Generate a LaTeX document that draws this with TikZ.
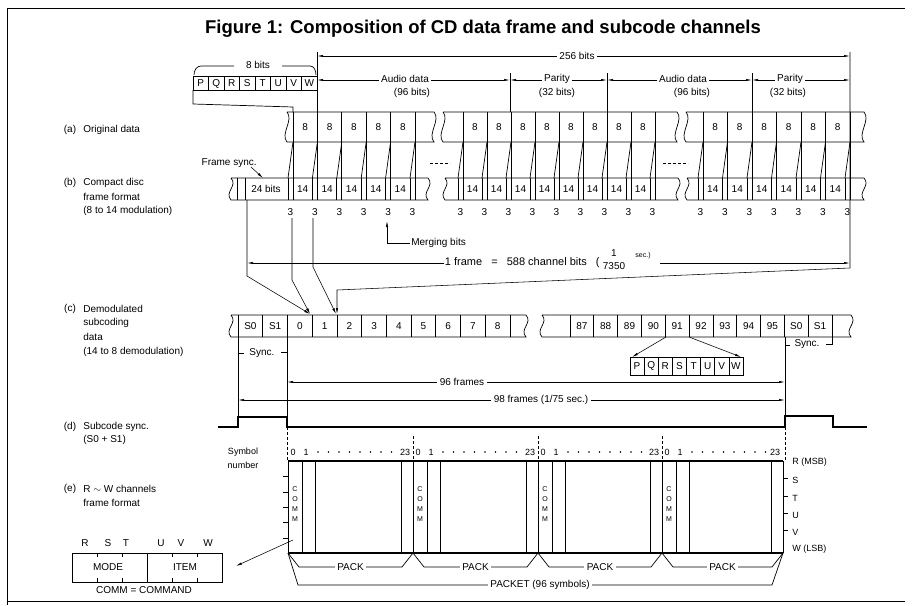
\documentclass[tikz,border=0pt]{standalone}
\usepackage{fontspec}
\setmainfont{Liberation Sans}
\setsansfont{Liberation Sans}
\usetikzlibrary{arrows.meta}
\newcommand{\band}[4]{%
  \draw (#1,#3) -- (#2,#3) .. controls +(7,8) and +(-7,-8) .. (#2,#4) -- (#1,#4) .. controls +(-7,-8) and +(7,8) .. (#1,#3);}
\begin{document}
\begin{tikzpicture}[x=1pt,y=-1pt,line width=0.7pt,
  lbl/.style={font=\fontsize{10}{12}\selectfont,inner sep=1pt},
  lblsm/.style={font=\fontsize{9}{11}\selectfont,inner sep=1pt},
  lbltiny/.style={font=\fontsize{7}{8}\selectfont,inner sep=0pt},
  wbg/.style={fill=white,inner sep=2.5pt},
  dimarr/.style={{Latex[length=6pt,width=2.2pt]}-{Latex[length=6pt,width=2.2pt]},line width=0.55pt},
  tipar/.style={-{Latex[length=6pt,width=2.4pt]},line width=0.55pt},
  fine/.style={line width=0.5pt},
  heavy/.style={line width=1.1pt}]
\useasboundingbox (0,0) rectangle (920,605);
% border
\draw[fine] (7,8) -- (905,8);
\draw[fine] (7,8) -- (7,605);
\draw[fine] (7,601) -- (905,601);
% title
\node[font=\fontsize{18.5}{22}\selectfont\bfseries,anchor=base] (title) at (483,33) {Figure 1: Composition of CD data frame and subcode channels};

% ---------- top 8-bit box ----------
\draw (193,76) rectangle (317,90);
\foreach \i in {1,...,7} \draw (193+15.5*\i,76) -- (193+15.5*\i,90);
\foreach \l [count=\i from 0] in {P,Q,R,S,T,U,V,W} \node[lbl] (tb\i) at (200.75+15.5*\i,83.5) {\l};
\draw (194,75) to[out=90,in=180] (201,66) -- (234,66);
\draw (282,66) -- (310,66) to[out=0,in=90] (316,75);
\node[lbl] (eightbits) at (258,65) {8 bits};
\draw (193,90) -- (193,104) -- (293,107) -- (293,112);

% ---------- dimension lines at top ----------
\draw (317,52) -- (317,112);
\draw (510,73) -- (510,112);
\draw (607,73) -- (607,112);
\draw (752,73) -- (752,112);
\draw[dimarr] (317,56) -- (850,56);
\node[lbl,wbg] (b256) at (577,56) {256 bits};
\draw[dimarr] (317,80) -- (510,80);
\draw[dimarr] (510,80) -- (607,80);
\draw[dimarr] (607,80) -- (752,80);
\draw[dimarr] (752,80) -- (850,80);
\node[lbl,wbg] (ad1) at (405,79) {Audio data};
\node[lbl] (ad1b) at (412,93) {(96 bits)};
\node[lbl,wbg] (pa1) at (557,79) {Parity};
\node[lbl] (pa1b) at (557,93) {(32 bits)};
\node[lbl,wbg] (ad2) at (683,79) {Audio data};
\node[lbl] (ad2b) at (692,93) {(96 bits)};
\node[lbl,wbg] (pa2) at (790,79) {Parity};
\node[lbl] (pa2b) at (788,93) {(32 bits)};

% ---------- row (a) ----------
\band{287}{434}{112}{142}
\band{443}{677}{112}{142}
\band{686}{864}{112}{142}
\foreach \i in {0,...,5} {\draw (293+24.4*\i,112) -- (293+24.4*\i,200); \draw (293+24.4*\i,142) -- (288+24.4*\i,178);}
\foreach \i in {0,...,4} \node[lbl] (a1-\i) at (305.2+24.4*\i,127) {8};
\foreach \i in {0,...,8} {\draw (463+24*\i,112) -- (463+24*\i,200); \draw (463+24*\i,142) -- (458+24*\i,178);}
\foreach \i in {0,...,7} \node[lbl] (a2-\i) at (475+24*\i,127) {8};
\foreach \i in {0,...,6} {\draw (703+24.5*\i,112) -- (703+24.5*\i,200); \draw (703+24.5*\i,142) -- (698+24.5*\i,178);}
\foreach \i in {0,...,5} \node[lbl] (a3-\i) at (715.25+24.5*\i,127) {8};

% ---------- row (b) ----------
\band{231}{428}{178}{200}
\band{445}{678}{178}{200}
\band{687}{864}{178}{200}
\draw (237,178) -- (237,200);
\draw (245,178) -- (245,200);
\node[lbl] (sync24) at (266,189) {24 bits};
\foreach \i in {0,...,5} {\draw (288+24.4*\i,178) -- (288+24.4*\i,200); \node[lbl] (m1-\i) at (290.5+24.4*\i,212) {3};}
\foreach \i in {0,...,4} \node[lbl] (b1-\i) at (302.7+24.4*\i,189) {14};
\foreach \i in {0,...,8} {\draw (458+24*\i,178) -- (458+24*\i,200); \node[lbl] (m2-\i) at (460.5+24*\i,212) {3};}
\foreach \i in {0,...,7} \node[lbl] (b2-\i) at (472.5+24*\i,189) {14};
\foreach \i in {0,...,6} {\draw (698+24.5*\i,178) -- (698+24.5*\i,200); \node[lbl] (m3-\i) at (700.5+24.5*\i,212) {3};}
\foreach \i in {0,...,5} \node[lbl] (b3-\i) at (712.75+24.5*\i,189) {14};
\draw[dash pattern=on 3pt off 2pt] (430,163) -- (450,163);
\draw[dash pattern=on 3pt off 2pt] (663,163) -- (688,163);
\node[lbl,anchor=east] (fsync) at (258,163) {Frame sync.};
\draw[tipar] (251,167) -- (263,178);
\node[lbl,anchor=west] (merg) at (410,243) {Merging bits};
\draw[tipar] (merg.west) -- (387,243) -- (387,221);

% ---------- 1 frame ----------
\node[lbl,anchor=east,font=\fontsize{11}{13}\selectfont] (oneframe) at (601,263) {1 frame\hspace{6pt} = \hspace{6pt}588 channel bits\hspace{6pt} (};
\node[lbl] (fnum) at (614,253) {1};
\node[lbl] (fden) at (614,266) {7350};
\node[lbltiny] (fsec) at (643,256) {sec.)};
\draw[{Latex[length=6pt,width=2.2pt]}-,line width=0.55pt] (247,263) -- (oneframe.west);
\draw[-{Latex[length=6pt,width=2.2pt]},line width=0.55pt] (660,263) -- (850,263);
\draw[tipar] (850,52) -- (850,268) -- (337,290) -- (337,314);
\draw[tipar] (247,200) -- (247,276) -- (310,314);
\draw[tipar] (292,218) -- (292,280) -- (310,314);
\draw[tipar] (313,218) -- (313,267) -- (336,314);

% ---------- row (c) ----------
\band{231}{526}{315}{337}
\band{542}{851}{315}{337}
\foreach \i in {0,...,11} \draw (238+24.73*\i,315) -- (238+24.73*\i,337);
\foreach \l [count=\i from 0] in {S0,S1,0,1,2,3,4,5,6,7,8} \node[lbl] (c1-\i) at (250.4+24.73*\i,326) {\l};
\foreach \i in {0,...,11} \draw (570+23.82*\i,315) -- (570+23.82*\i,337);
\foreach \l [count=\i from 0] in {87,88,89,90,91,92,93,94,95,S0,S1} \node[lbl] (c2-\i) at (581.9+23.82*\i,326) {\l};
% sync brackets
\draw (238,337) -- (238,417);
\draw (238,353) -- (244,353);
\node[lbl] (sync1) at (262,353) {Sync.};
\draw (281,352) -- (287,352);
\draw (287,337) -- (287,417);
\draw (785,337) -- (785,416);
\draw (785,345) -- (790,345);
\node[lbl] (sync2) at (807,344) {Sync.};
\draw (826,344) -- (832,344) -- (832,337);
% PQRSTUVW
\draw (630,357) rectangle (743,375);
\foreach \i in {1,...,7} \draw (630+14.125*\i,357) -- (630+14.125*\i,375);
\foreach \l [count=\i from 0] in {P,Q,R,S,T,U,V,W} \node[lbl] (pb\i) at (637.06+14.125*\i,366) {\l};
\draw[tipar] (666,337) -- (632,357);
\draw[tipar] (689,337) -- (741,357);
% frames
\draw[dimarr] (287,382) -- (785,382);
\node[lbl,wbg] (f96) at (462,382) {96 frames};
\draw[dimarr] (238,400) -- (785,400);
\node[lbl,wbg] (f98) at (541,400) {98 frames (1/75 sec.)};

% ---------- row (d) pulse ----------
\draw[heavy] (218,427) -- (238,427) -- (238,417) -- (287,417) -- (287,427) -- (785,427) -- (785,416) -- (833,416) -- (833,427) -- (867,427);
\foreach \x in {287,785} \draw[fine,dash pattern=on 3pt off 2pt] (\x,427) -- (\x,461);
\foreach \x in {413,538,662} \draw[fine,dash pattern=on 3pt off 2pt] (\x,436) -- (\x,461);

% ---------- row (e) ----------
\node[lblsm] (symb) at (243,452) {Symbol};
\node[lblsm] (numb) at (243,465) {number};
\draw[heavy] (288,461) -- (783,461);
\draw[heavy] (288,553) -- (783,553);
\draw (783,461) -- (783,553);
\foreach \b/\e in {288/413,413/538,538/662,662/783} {
  \draw (\b,461) -- (\b,553);
  \draw (\b+14,461) -- (\b+14,553);
  \draw (\b+27,461) -- (\b+27,553);
  \draw (\e-12,461) -- (\e-12,553);
  \foreach \l/\yy in {C/489,O/499,M/509,M/519} \node[lbltiny] (cm-\b-\yy) at (\b+7,\yy) {\l};
  \node[lblsm] (s0-\b) at (\b+5,452) {0};
  \node[lblsm] (s1-\b) at (\b+18,452) {1};
  \foreach \k in {0,...,7} \fill (\b+30+10.5*\k,452) circle[radius=0.8pt];
  \node[lblsm,anchor=east] (s23-\b) at (\e-1.5,452) {23};
  \draw (\b,553) -- (\b+11,567) -- (\e-11,567) -- (\e,553);
  \node[lbl,wbg] (pk-\b) at ({(\b+\e)/2},567) {PACK};
}
\foreach \yy in {476,492,507,522,538} \draw (283,\yy) -- (288,\yy);
\foreach \yy in {478,496,513,530} \draw (783,\yy) -- (788,\yy);
\node[lblsm,anchor=west] (rr) at (791,462) {R (MSB)};
\node[lblsm,anchor=west] (rs) at (791,480) {S};
\node[lblsm,anchor=west] (rt) at (791,498) {T};
\node[lblsm,anchor=west] (ru) at (791,515) {U};
\node[lblsm,anchor=west] (rv) at (791,532) {V};
\node[lblsm,anchor=west] (rw) at (791,549) {W (LSB)};
\draw (288,553) -- (298,585) -- (772,585) -- (783,553);
\node[lbl,wbg] (packet) at (540,585) {PACKET (96 symbols)};
% MODE / ITEM box
\draw (72,553) rectangle (222,582);
\draw (147,553) -- (147,582);
\foreach \x in {97,122,172,197} {\draw (\x,553) -- (\x,557); \draw (\x,578) -- (\x,582);}
\foreach \l/\x in {R/85,S/108,T/126,U/161,V/181,W/208} \node[lbl] (mb\l) at (\x,543) {\l};
\node[lbl] (mode) at (108,567) {MODE};
\node[lbl] (item) at (185,567) {ITEM};
\node[lbl] (commd) at (144,590) {COMM = COMMAND};
\draw[tipar] (293,540) -- (236,566);

% ---------- left labels ----------
\node[lbl] (la) at (70,130) {(a)};
\node[lbl,anchor=west] (la1) at (82,130) {Original data};
\node[lbl] (lb) at (70,183) {(b)};
\node[lbl,anchor=west] (lb1) at (82,183) {Compact disc};
\node[lbl,anchor=west] (lb2) at (82,197) {frame format};
\node[lbl,anchor=west] (lb3) at (82,211) {(8 to 14 modulation)};
\node[lbl] (lc) at (70,309) {(c)};
\node[lbl,anchor=west] (lc1) at (82,309) {Demodulated};
\node[lbl,anchor=west] (lc2) at (82,323) {subcoding};
\node[lbl,anchor=west] (lc3) at (82,337) {data};
\node[lbl,anchor=west] (lc4) at (82,352) {(14 to 8 demodulation)};
\node[lbl] (ld) at (70,427) {(d)};
\node[lbl,anchor=west] (ld1) at (82,427) {Subcode sync.};
\node[lbl,anchor=west] (ld2) at (82,440) {(S0 + S1)};
\node[lbl] (le) at (70,489) {(e)};
\node[lbl,anchor=west] (le1) at (82,489) {R $\sim$ W channels};
\node[lbl,anchor=west] (le2) at (82,503) {frame format};
\end{tikzpicture}
\end{document}
